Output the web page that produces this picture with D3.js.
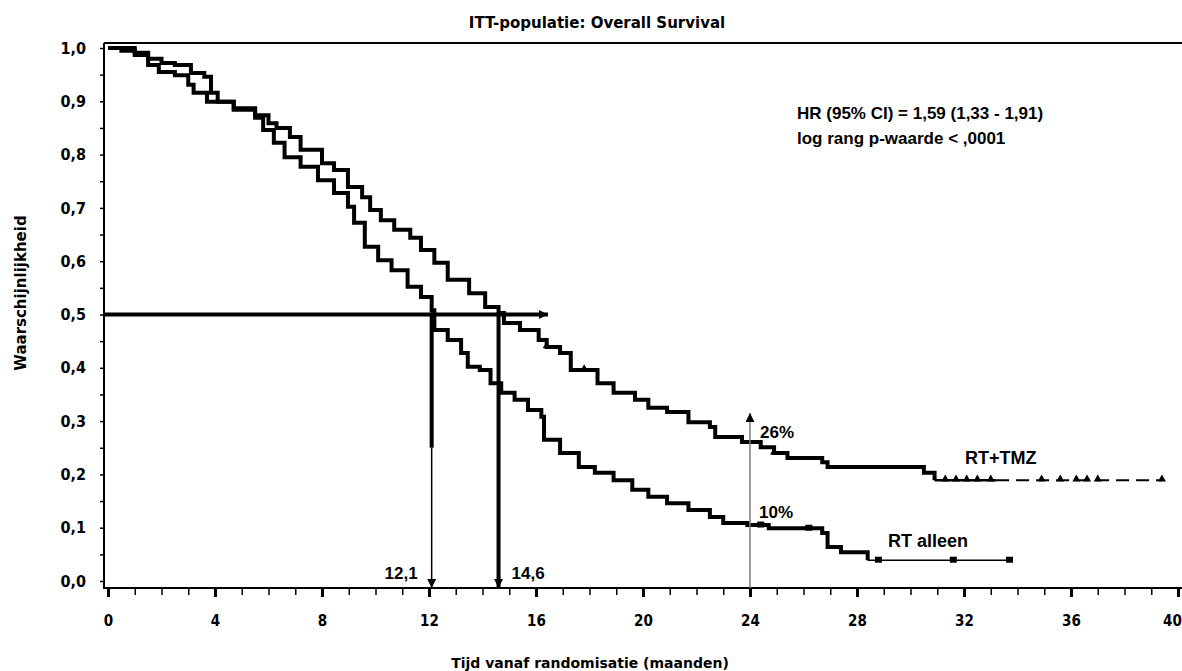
<!DOCTYPE html>
<html>
<head>
<meta charset="utf-8">
<script src="https://cdn.jsdelivr.net/npm/d3@7"></script>
<style>
  html, body { margin: 0; padding: 0; background: #fff; }
  svg { display: block; }
  .tick text { font-family: "DejaVu Sans Condensed", "DejaVu Sans", sans-serif; font-stretch: condensed; font-weight: bold; fill: #000; }
</style>
</head>
<body>
<svg id="chart" width="1182" height="671"></svg>
<script>
// ---------------- data ----------------
const chartTitle = "ITT-populatie: Overall Survival";
const xTitle = "Tijd vanaf randomisatie (maanden)";
const yTitle = "Waarschijnlijkheid";
const seriesNames = ["RT+TMZ", "RT alleen"];

const xTickValues = [0, 4, 8, 12, 16, 20, 24, 28, 32, 36, 40];
const xTickLabels = ["0", "4", "8", "12", "16", "20", "24", "28", "32", "36", "40"];
const yTickValues = [0, 0.1, 0.2, 0.3, 0.4, 0.5, 0.6, 0.7, 0.8, 0.9, 1.0];
const yTickLabels = ["0,0", "0,1", "0,2", "0,3", "0,4", "0,5", "0,6", "0,7", "0,8", "0,9", "1,0"];

// RT+TMZ Kaplan-Meier steps (months, survival)
const tmzTime = [0, 0.5, 1.0, 1.5, 2.0, 2.5, 3.1, 3.6, 3.85, 4.1, 4.7, 5.5, 6.0, 6.3, 6.8, 7.2, 8.0, 8.45, 8.97, 9.5, 9.8, 10.2, 10.7, 11.3, 11.7, 12.2, 12.7, 13.5, 14.1, 14.6, 14.8, 15.4, 16.1, 16.4, 16.9, 17.3, 18.3, 18.9, 19.7, 20.2, 20.9, 21.7, 22.5, 22.7, 23.7, 24.4, 24.9, 25.4, 26.7, 26.9, 30.3, 30.5, 30.9, 39.4];
const tmzSurv = [1.0, 0.995, 0.991, 0.98, 0.972, 0.968, 0.953, 0.946, 0.916, 0.899, 0.887, 0.874, 0.859, 0.850, 0.833, 0.809, 0.784, 0.771, 0.739, 0.720, 0.696, 0.677, 0.659, 0.644, 0.621, 0.597, 0.565, 0.540, 0.514, 0.503, 0.484, 0.471, 0.452, 0.439, 0.428, 0.396, 0.371, 0.353, 0.340, 0.325, 0.317, 0.298, 0.289, 0.270, 0.261, 0.251, 0.240, 0.231, 0.223, 0.214, 0.214, 0.203, 0.189, 0.189];
const tmzCensor = [16.4, 17.8, 24.9, 31.3, 31.7, 32.1, 32.5, 33.0, 34.9, 35.6, 36.2, 36.6, 37.0, 39.4];
const tmzDashFrom = 33.2;

// RT alone Kaplan-Meier steps
const rtTime = [0, 1.0, 1.5, 1.9, 2.5, 3.0, 3.2, 3.7, 4.7, 5.5, 5.8, 6.2, 6.6, 7.2, 7.85, 8.45, 8.97, 9.2, 9.6, 10.1, 10.6, 11.2, 11.7, 12.1, 12.2, 12.7, 13.2, 13.45, 13.9, 14.3, 14.7, 15.2, 15.7, 16.2, 16.3, 16.9, 17.6, 18.2, 18.9, 19.6, 20.2, 20.9, 21.7, 22.5, 23.0, 23.9, 24.7, 26.7, 26.9, 27.4, 28.4, 33.75];
const rtSurv = [1.0, 0.987, 0.968, 0.955, 0.949, 0.931, 0.916, 0.899, 0.884, 0.869, 0.846, 0.822, 0.795, 0.777, 0.752, 0.728, 0.702, 0.672, 0.627, 0.602, 0.583, 0.552, 0.533, 0.508, 0.471, 0.452, 0.428, 0.402, 0.396, 0.371, 0.353, 0.340, 0.321, 0.308, 0.265, 0.240, 0.214, 0.203, 0.189, 0.171, 0.158, 0.146, 0.133, 0.120, 0.109, 0.105, 0.099, 0.090, 0.064, 0.054, 0.039, 0.039];
const rtCensor = [24.4, 26.2, 28.8, 31.6, 33.7];
const rtThickUntil = 28.4;
const tmzThickUntil = 30.9;

const medianTimes = [12.1, 14.6];
const medianLabels = ["12,1", "14,6"];
const landmarkTime = 24;
const landmarkTop = 0.315;
const landmarkLabels = ["26%", "10%"];
const statsText = ["HR (95% CI) = 1,59 (1,33 - 1,91)", "log rang p-waarde < ,0001"];

// ---------------- drawing ----------------
const svg = d3.select("#chart");
const x = d3.scaleLinear().domain([0, 40]).range([108, 1178]);
const y = d3.scaleLinear().domain([0, 1]).range([581, 48]);
const axisY = 588, axisX = 104;

const defs = svg.append("defs");
function marker(id, color, size) {
  defs.append("marker").attr("id", id)
    .attr("viewBox", "0 0 10 10").attr("refX", 10).attr("refY", 5)
    .attr("markerUnits", "userSpaceOnUse")
    .attr("markerWidth", size).attr("markerHeight", size)
    .attr("orient", "auto")
    .append("path").attr("d", "M0,0 L10,5 L0,10 Z").attr("fill", color);
}
marker("arrK", "#000", 9);
marker("arrG", "#000", 9);

// frame: top line
svg.append("line").attr("x1", axisX).attr("x2", 1182).attr("y1", 43).attr("y2", 43)
  .attr("stroke", "#000").attr("stroke-width", 2);

// x axis
const xMinor = d3.range(0, 41, 1);
const xAxis = d3.axisBottom(x).tickValues(xMinor).tickSize(8).tickSizeOuter(0)
  .tickFormat(d => { const i = xTickValues.indexOf(d); return i >= 0 ? xTickLabels[i] : ""; })
  .tickPadding(19);
const gx = svg.append("g").attr("transform", `translate(0,${axisY})`).call(xAxis);
gx.select(".domain").remove();
gx.selectAll(".tick line").attr("stroke", "#000")
  .attr("stroke-width", d => d % 4 === 0 ? 3 : 1.5)
  .attr("y2", d => d % 4 === 0 ? 9 : 7);
gx.selectAll(".tick text").attr("font-size", 15)
  .attr("dx", d => d === 40 ? -6 : 0);
svg.append("line").attr("x1", axisX).attr("x2", 1182).attr("y1", axisY).attr("y2", axisY)
  .attr("stroke", "#000").attr("stroke-width", 2);

// y axis
const yMinor = d3.range(0, 21).map(i => i / 20);
const yAxis = d3.axisLeft(y).tickValues(yMinor).tickSize(4).tickSizeOuter(0)
  .tickFormat(d => { const i = yTickValues.findIndex(v => Math.abs(v - d) < 1e-6); return i >= 0 ? yTickLabels[i] : ""; })
  .tickPadding(14);
const gy = svg.append("g").attr("transform", `translate(${axisX},0)`).call(yAxis);
gy.select(".domain").remove();
gy.selectAll(".tick line").attr("stroke", "#000").attr("stroke-width", 1.5);
gy.selectAll(".tick text").attr("font-size", 16);
svg.append("line").attr("x1", axisX).attr("x2", axisX).attr("y1", 43).attr("y2", axisY + 1)
  .attr("stroke", "#000").attr("stroke-width", 2);

// titles
svg.append("text").attr("x", 597).attr("y", 28).attr("text-anchor", "middle")
  .attr("font-family", "DejaVu Sans, Verdana, sans-serif").attr("font-weight", "bold")
  .attr("font-size", 15).text(chartTitle);
svg.append("text").attr("x", 590).attr("y", 668).attr("text-anchor", "middle")
  .attr("font-family", "DejaVu Sans, Verdana, sans-serif").attr("font-weight", "bold")
  .attr("font-size", 14).text(xTitle);
svg.append("text").attr("transform", "translate(26,293) rotate(-90)").attr("text-anchor", "middle")
  .attr("font-family", "DejaVu Sans, Verdana, sans-serif").attr("font-weight", "bold")
  .attr("font-size", 15).text(yTitle);

// helpers
const toPts = (ts, vs) => ts.map((t, i) => [t, vs[i]]);
const survAt = (ts, vs, t) => { let v = vs[0]; for (let i = 0; i < ts.length; i++) { if (ts[i] <= t) v = vs[i]; } return v; };
const step = d3.line().x(d => x(d[0])).y(d => y(d[1])).curve(d3.curveStepAfter);
function splitAt(pts, t0, t1) {
  const ts = pts.map(p => p[0]), vs = pts.map(p => p[1]);
  const out = pts.filter(p => p[0] >= t0 && p[0] <= t1);
  if (!out.length || out[0][0] > t0) out.unshift([t0, survAt(ts, vs, t0)]);
  if (out[out.length - 1][0] < t1) out.push([t1, survAt(ts, vs, t1)]);
  return out;
}

// RT+TMZ
const tmzPts = toPts(tmzTime, tmzSurv);
const tmzEnd = tmzTime[tmzTime.length - 1];
svg.append("path").attr("d", step(splitAt(tmzPts, 0, tmzThickUntil))).attr("fill", "none")
  .attr("stroke", "#000").attr("stroke-width", 4);
svg.append("path").attr("d", step(splitAt(tmzPts, tmzThickUntil, tmzDashFrom))).attr("fill", "none")
  .attr("stroke", "#000").attr("stroke-width", 2.5);
svg.append("path").attr("d", step(splitAt(tmzPts, tmzDashFrom, tmzEnd))).attr("fill", "none")
  .attr("stroke", "#000").attr("stroke-width", 2).attr("stroke-dasharray", "13,7");
svg.append("g").selectAll("path").data(tmzCensor).join("path")
  .attr("transform", d => `translate(${x(d)},${y(survAt(tmzTime, tmzSurv, d)) - 1})`)
  .attr("d", d3.symbol(d3.symbolTriangle, 28)).attr("fill", "#000");

// RT alone
const rtPts = toPts(rtTime, rtSurv);
const rtEnd = rtTime[rtTime.length - 1];
svg.append("path").attr("d", step(splitAt(rtPts, 0, rtThickUntil))).attr("fill", "none")
  .attr("stroke", "#000").attr("stroke-width", 4);
svg.append("path").attr("d", step(splitAt(rtPts, rtThickUntil, rtEnd))).attr("fill", "none")
  .attr("stroke", "#000").attr("stroke-width", 1.5);
svg.append("g").selectAll("rect").data(rtCensor).join("rect")
  .attr("x", d => x(d) - 3.5).attr("y", d => y(survAt(rtTime, rtSurv, d)) - 3.5)
  .attr("width", 7).attr("height", 6).attr("fill", "#000");

// median lines
svg.append("line").attr("x1", axisX).attr("x2", x(16.45)).attr("y1", y(0.5)).attr("y2", y(0.5))
  .attr("stroke", "#000").attr("stroke-width", 4).attr("marker-end", "url(#arrK)");
svg.append("line").attr("x1", x(medianTimes[0])).attr("x2", x(medianTimes[0]))
  .attr("y1", y(0.5) - 2).attr("y2", y(0.25)).attr("stroke", "#000").attr("stroke-width", 4);
svg.append("line").attr("x1", x(medianTimes[0])).attr("x2", x(medianTimes[0]))
  .attr("y1", y(0.25)).attr("y2", axisY).attr("stroke", "#000").attr("stroke-width", 1.5)
  .attr("marker-end", "url(#arrK)");
svg.append("line").attr("x1", x(medianTimes[1])).attr("x2", x(medianTimes[1]))
  .attr("y1", y(0.5) - 2).attr("y2", axisY).attr("stroke", "#000").attr("stroke-width", 4)
  .attr("marker-end", "url(#arrK)");

const lblFont = "Liberation Sans, Arial, sans-serif";
svg.append("text").attr("x", x(medianTimes[0]) - 14).attr("y", 579).attr("text-anchor", "end")
  .attr("font-family", lblFont).attr("font-weight", "bold").attr("font-size", 17).text(medianLabels[0]);
svg.append("text").attr("x", x(medianTimes[1]) + 13).attr("y", 579).attr("text-anchor", "start")
  .attr("font-family", lblFont).attr("font-weight", "bold").attr("font-size", 17).text(medianLabels[1]);

// landmark at 24 months
svg.append("line").attr("x1", x(landmarkTime)).attr("x2", x(landmarkTime))
  .attr("y1", axisY).attr("y2", y(landmarkTop)).attr("stroke", "#7a7a7a").attr("stroke-width", 1.5)
  .attr("marker-end", "url(#arrG)");
svg.append("text").attr("x", x(landmarkTime) + 10).attr("y", 438)
  .attr("font-family", lblFont).attr("font-weight", "bold").attr("font-size", 17).text(landmarkLabels[0]);
svg.append("text").attr("x", x(landmarkTime) + 9).attr("y", 518)
  .attr("font-family", lblFont).attr("font-weight", "bold").attr("font-size", 17).text(landmarkLabels[1]);

// series labels
svg.append("text").attr("x", 965).attr("y", 464)
  .attr("font-family", lblFont).attr("font-weight", "bold").attr("font-size", 18).text(seriesNames[0]);
svg.append("text").attr("x", 888).attr("y", 547)
  .attr("font-family", lblFont).attr("font-weight", "bold").attr("font-size", 18).text(seriesNames[1]);

// stats
svg.append("g").selectAll("text").data(statsText).join("text")
  .attr("x", 797).attr("y", (d, i) => 119 + i * 25)
  .attr("font-family", lblFont).attr("font-weight", "bold").attr("font-size", 17)
  .text(d => d);
</script>
</body>
</html>
